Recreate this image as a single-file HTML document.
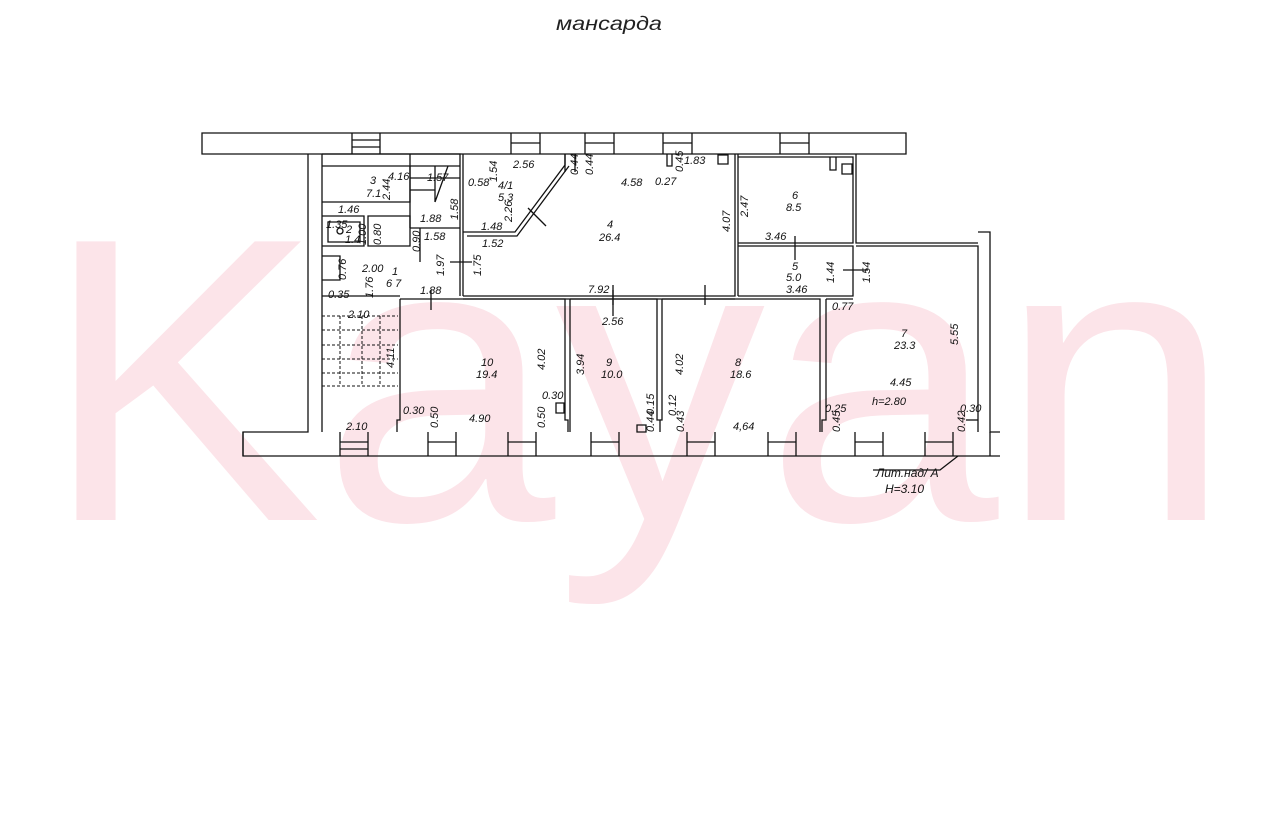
<!DOCTYPE html>
<html><head><meta charset="utf-8"><style>
html,body{margin:0;padding:0;background:#fff;width:1280px;height:831px;overflow:hidden}
svg text{font-family:"Liberation Sans",sans-serif;font-style:italic;fill:#111}
</style></head><body>
<svg width="1280" height="831" viewBox="0 0 1280 831" xmlns="http://www.w3.org/2000/svg">
<text x="42" y="520" font-size="405" textLength="1190" lengthAdjust="spacingAndGlyphs" style="fill:#fce4e9;font-style:normal">Kayan</text>
<text x="556" y="30" font-size="19" textLength="106" lengthAdjust="spacingAndGlyphs" style="fill:#222">мансарда</text>
<g fill="none" stroke="#111" stroke-width="1.3">
<path d="M202 133H906V154H202Z"/>
<path d="M308 154V432H243V456H1000"/>
<path d="M243 432V456"/>
<path d="M322 154V432"/>
<path d="M352 133V154M380 133V154M352 140H380M352 147H380"/>
<path d="M511 133V154M540 133V154M511 143H540"/>
<path d="M585 133V154M614 133V154M585 143H614"/>
<path d="M663 133V154M692 133V154M663 143H692"/>
<path d="M780 133V154M809 133V154M780 143H809"/>
<path d="M340 432V456M368 432V456M340 442H368M340 449H368"/>
<path d="M428 432V456M456 432V456M428 442H456"/>
<path d="M508 432V456M536 432V456M508 442H536"/>
<path d="M591 432V456M619 432V456M591 442H619"/>
<path d="M687 432V456M715 432V456M687 442H715"/>
<path d="M768 432V456M796 432V456M768 442H796"/>
<path d="M855 432V456M883 432V456M855 442H883"/>
<path d="M925 432V456M953 432V456M925 442H953"/>
<path d="M322 154H460V296"/>
<path d="M463 154V296"/>
<path d="M322 166H410M410 154V166"/>
<path d="M410 166H460M410 166V202H322"/>
<path d="M322 216H364V246H322M368 216H410V246H368Z"/>
<path d="M328 222H360V242H328Z"/>
<circle cx="340" cy="231" r="3"/>
<path d="M410 202V228M410 228H460M420 228V262"/>
<path d="M322 256H340V280H322"/>
<path d="M410 166V202M435 166V202M410 178H460M410 190H435M448 166L435 202"/>
<g stroke-dasharray="3,2" stroke-width="1">
<path d="M322 316H398M322 330H398M322 345H398M322 359H398M322 373H398M322 386H398M340 316V386M362 316V386M380 316V386"/>
</g>
<path d="M322 296H400"/>
<path d="M463 232H515L565 165V154"/>
<path d="M467 236H517L569 166"/>
<path d="M528 208L546 226"/>
<path d="M463 296H735V154"/>
<path d="M463 299H735"/>
<path d="M738 154V296"/>
<path d="M613 285V305M705 285V305M450 262H472"/>
<path d="M565 154V172M575 154V172"/>
<path d="M667 154V166H672V154"/>
<path d="M718 155H728V164H718Z"/>
<path d="M738 157H853V243H738"/>
<path d="M738 246H853V296H738"/>
<path d="M856 154V243H978"/>
<path d="M856 246H978V432"/>
<path d="M978 232H990V432H1000"/>
<path d="M990 432V456"/>
<path d="M795 236V260M843 270H868"/>
<path d="M842 164H852V174H842Z"/>
<path d="M830 157V170H836V157"/>
<path d="M400 299H565V420H568V432"/>
<path d="M400 299V420H397V432"/>
<path d="M570 299H657V420H660V432"/>
<path d="M570 299V432"/>
<path d="M662 299H820V432"/>
<path d="M662 299V420H660"/>
<path d="M826 299V420H822V432"/>
<path d="M826 299H853"/>
<path d="M966 420H978"/>
<path d="M431 290V310M613 290V316"/>
<path d="M556 403H564V413H556Z"/>
<path d="M637 425H646V432H637Z"/>
<path d="M873 470H940L958 456"/>
</g>
<g font-size="11">
<text x="370" y="184">3</text><text x="366" y="197">7.1</text>
<text x="388" y="180">4.16</text><text x="427" y="181">1.57</text>
<text x="338" y="213">1.46</text><text x="326" y="228">1.35</text><text x="346" y="233">2</text><text x="345" y="243">1.4</text>
<text x="420" y="222">1.88</text><text x="424" y="240">1.58</text>
<text x="362" y="272">2.00</text><text x="392" y="275">1</text><text x="386" y="287">6 7</text>
<text x="328" y="298">0.35</text><text x="420" y="294">1.88</text>
<text x="348" y="318">2.10</text><text x="346" y="430">2.10</text>
<text x="468" y="186">0.58</text><text x="513" y="168">2.56</text>
<text x="498" y="189">4/1</text><text x="498" y="201">5.3</text>
<text x="481" y="230">1.48</text><text x="482" y="247">1.52</text>
<text x="621" y="186">4.58</text><text x="655" y="185">0.27</text><text x="684" y="164">1.83</text>
<text x="607" y="228">4</text><text x="599" y="241">26.4</text>
<text x="588" y="293">7.92</text>
<text x="602" y="325">2.56</text>
<text x="481" y="366">10</text><text x="476" y="378">19.4</text>
<text x="606" y="366">9</text><text x="601" y="378">10.0</text>
<text x="735" y="366">8</text><text x="730" y="378">18.6</text>
<text x="403" y="414">0.30</text><text x="469" y="422">4.90</text><text x="542" y="399">0.30</text>
<text x="733" y="430">4,64</text>
<text x="765" y="240">3.46</text><text x="792" y="199">6</text><text x="786" y="211">8.5</text>
<text x="792" y="270">5</text><text x="786" y="281">5.0</text><text x="786" y="293">3.46</text>
<text x="832" y="310">0.77</text>
<text x="901" y="337">7</text><text x="894" y="349">23.3</text>
<text x="890" y="386">4.45</text><text x="872" y="405">h=2.80</text>
<text x="825" y="412">0.25</text><text x="960" y="412">0.30</text>
<text x="876" y="477" font-size="12">Лит.над/ А</text>
<text x="885" y="493" font-size="12">H=3.10</text>
</g>
<g font-size="11">
<text transform="translate(390,200) rotate(-90)">2.44</text>
<text transform="translate(458,220) rotate(-90)">1.58</text>
<text transform="translate(497,182) rotate(-90)">1.54</text>
<text transform="translate(512,222) rotate(-90)">2.26</text>
<text transform="translate(481,276) rotate(-90)">1.75</text>
<text transform="translate(444,276) rotate(-90)">1.97</text>
<text transform="translate(420,252) rotate(-90)">0.90</text>
<text transform="translate(366,245) rotate(-90)">1.00</text>
<text transform="translate(381,245) rotate(-90)">0.80</text>
<text transform="translate(346,280) rotate(-90)">0.76</text>
<text transform="translate(373,298) rotate(-90)">1.76</text>
<text transform="translate(394,368) rotate(-90)">4.11</text>
<text transform="translate(545,370) rotate(-90)">4.02</text>
<text transform="translate(584,375) rotate(-90)">3.94</text>
<text transform="translate(683,375) rotate(-90)">4.02</text>
<text transform="translate(438,428) rotate(-90)">0.50</text>
<text transform="translate(545,428) rotate(-90)">0.50</text>
<text transform="translate(654,415) rotate(-90)">0.15</text>
<text transform="translate(654,432) rotate(-90)">0.44</text>
<text transform="translate(676,416) rotate(-90)">0.12</text>
<text transform="translate(684,432) rotate(-90)">0.43</text>
<text transform="translate(730,232) rotate(-90)">4.07</text>
<text transform="translate(748,217) rotate(-90)">2.47</text>
<text transform="translate(834,283) rotate(-90)">1.44</text>
<text transform="translate(870,283) rotate(-90)">1.54</text>
<text transform="translate(958,345) rotate(-90)">5.55</text>
<text transform="translate(840,432) rotate(-90)">0.45</text>
<text transform="translate(965,432) rotate(-90)">0.42</text>
<text transform="translate(578,175) rotate(-90)">0.44</text>
<text transform="translate(593,175) rotate(-90)">0.44</text>
<text transform="translate(683,172) rotate(-90)">0.45</text>
</g>
</svg>
</body></html>
